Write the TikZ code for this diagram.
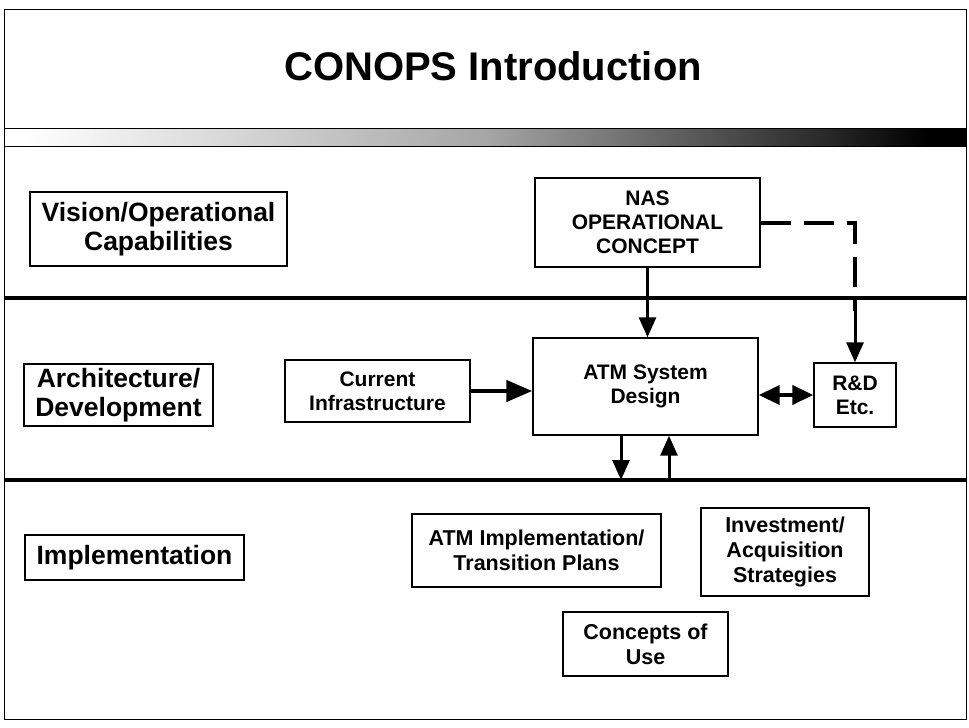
\documentclass[tikz,border=0pt]{standalone}
\usepackage{fontspec}
\setmainfont{Liberation Sans}
\usetikzlibrary{arrows.meta}
\pgfdeclarehorizontalshading{bandshade}{100bp}{color(0bp)=(white); color(26bp)=(white); color(50bp)=(black!35); color(68bp)=(black!85); color(73bp)=(black); color(100bp)=(black)}
\begin{document}
\begin{tikzpicture}[x=1pt,y=-1pt,
  box/.style={draw, line width=1.4pt, inner sep=0pt, align=center,
    font=\bfseries\fontsize{21}{24}\selectfont},
  bigbox/.style={box, font=\bfseries\fontsize{26.5}{29}\selectfont},
  lowbox/.style={box, font=\bfseries\fontsize{21.5}{25}\selectfont},
  sepline/.style={line width=3.5pt},
  arr/.style={line width=3pt, -{Triangle[length=20pt,width=17pt]}},
  fatarr/.style={line width=4.5pt, -{Triangle[length=26pt,width=21pt]}},
  dblarr/.style={line width=4pt, {Triangle[length=21pt,width=19pt]}-{Triangle[length=21pt,width=19pt]}},
  dashline/.style={line width=4pt, dash pattern=on 30pt off 13pt}]
\useasboundingbox (0,0) rectangle (969,728);
% frame
\draw[line width=1pt] (4,9) rectangle (966,719);
% title
\node[font=\bfseries\fontsize{40}{44}\selectfont] (title) at (493,66) {CONOPS Introduction};
% band
\shade[shading=bandshade, draw=black, line width=0.8pt] (4,128) rectangle (966,146);
% separator lines
\coordinate (l1w) at (4,298); \coordinate (l1e) at (966,298);
\coordinate (l2w) at (4,480); \coordinate (l2e) at (966,480);
\draw[sepline] (l1w) -- (l1e);
\draw[sepline] (l2w) -- (l2e);
% left labels
\node[bigbox, minimum width=257pt, minimum height=74pt] (vis) at (158.5,229) {Vision/Operational\\Capabilities};
\node[bigbox, minimum width=189pt, minimum height=62pt] (arch) at (118.5,395) {Architecture/\\Development};
\node[bigbox, minimum width=219pt, minimum height=45pt] (impl) at (134.5,557.5) {Implementation};
% diagram boxes
\node[box, minimum width=225pt, minimum height=89pt] (nas) at (647.5,222.5) {NAS\\OPERATIONAL\\CONCEPT};
\node[box, minimum width=185pt, minimum height=62pt] (infra) at (377.5,391) {Current\\Infrastructure};
\node[box, minimum width=225pt, minimum height=97pt] (atm) at (645.5,386.5) {ATM System\\Design};
\node[box, minimum width=82pt, minimum height=64pt] (rd) at (855,395) {R\&D\\Etc.};
\node[lowbox, minimum width=249pt, minimum height=73pt] (plans) at (536.5,550.5) {ATM Implementation/\\Transition Plans};
\node[lowbox, minimum width=168pt, minimum height=88pt] (invest) at (785,552) {Investment/\\Acquisition\\Strategies};
\node[lowbox, minimum width=165pt, minimum height=64pt] (cou) at (645.5,644) {Concepts of\\Use};
% connectors
\draw[arr] (nas.south) -- (nas.south |- atm.north);
\draw[fatarr] (infra.east) -- (infra.east -| atm.west);
\draw[dblarr] (atm.east |- rd.west) -- (rd.west);
\draw[arr] ([xshift=-24.5pt]atm.south) -- ([xshift=-24.5pt]atm.south |- l2w);
\draw[arr] ([xshift=23.5pt]atm.south |- l2w) -- ([xshift=23.5pt]atm.south);
\coordinate (dcorner) at (rd.north |- nas.east);
\coordinate (dend) at ([yshift=51pt]rd.north);
\draw[dashline] (nas.east) -- (dcorner) -- (dend);
\draw[arr] (dend) -- (rd.north);
\end{tikzpicture}
\end{document}
